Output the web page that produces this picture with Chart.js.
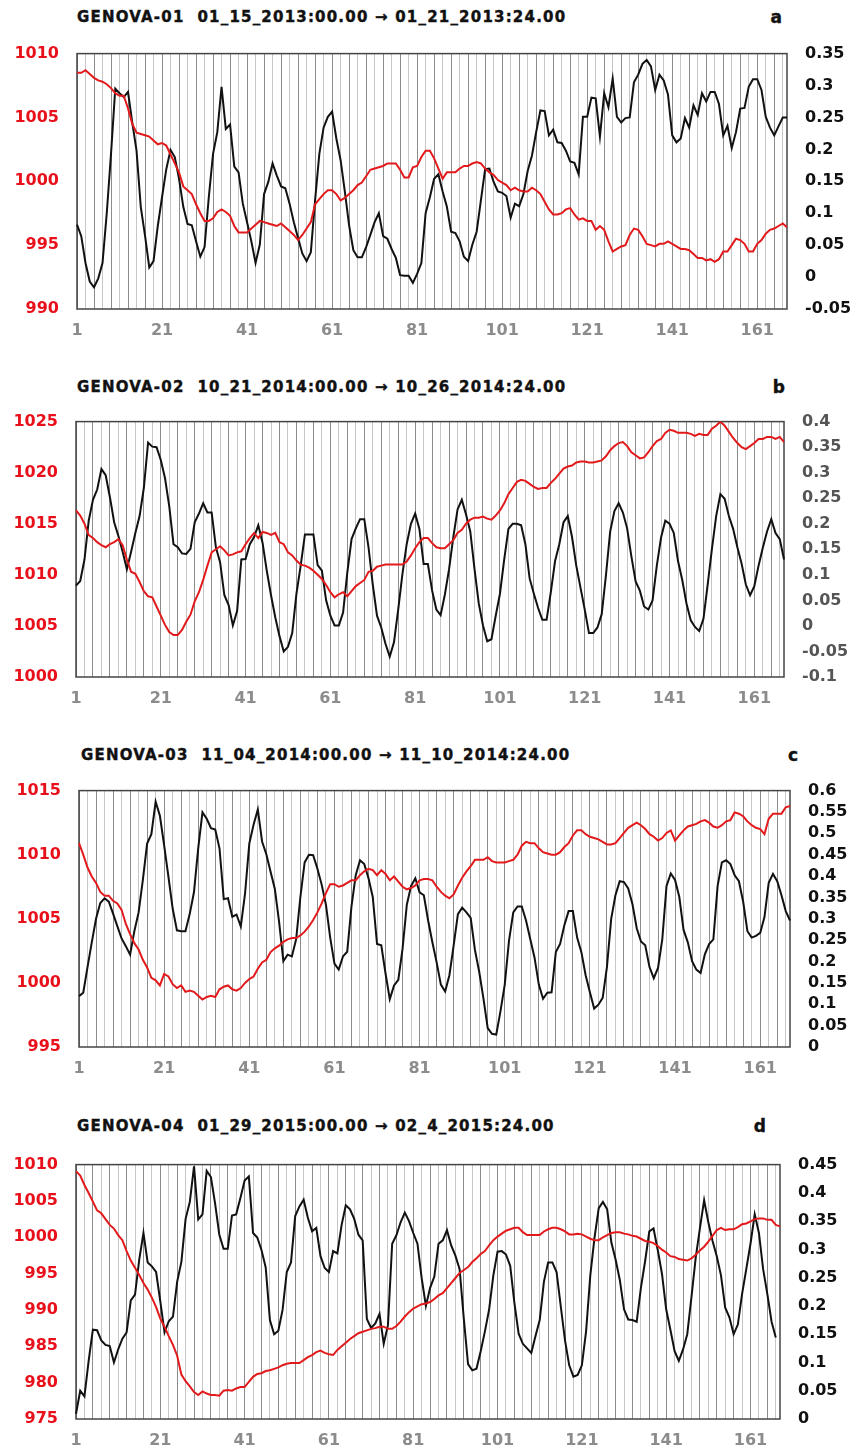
<!DOCTYPE html>
<html>
<head>
<meta charset="utf-8">
<script src="https://cdn.jsdelivr.net/npm/chart.js@4.4.1/dist/chart.umd.min.js"></script>
<style>
  body { margin: 0; background: #fff; width: 860px; height: 1450px; position: relative; font-family: 'DejaVu Sans', sans-serif; }
  canvas { position: absolute; left: 0; }
  .title { position: absolute; font-weight: bold; font-size: 15px; line-height: 20px; letter-spacing: 1.2px; white-space: pre; color: #111; -webkit-text-stroke: 0.4px #111; }
  .tag { position: absolute; font-weight: bold; font-size: 17px; line-height: 20px; color: #111; -webkit-text-stroke: 0.4px #111; }
</style>
</head>
<body>
<script>
// hourly steps shown on the x axis
const hours = Array.from({ length: 168 }, (_, i) => i + 1);

// GENOVA-01 : pressure (red, left axis) and black series (right axis)
const pressA = [1008.5, 1008.5, 1008.7, 1008.4, 1008.1, 1007.9, 1007.8, 1007.6, 1007.3, 1006.9, 1006.7, 1006.7, 1005.7, 1004.5, 1003.8, 1003.7, 1003.6, 1003.5, 1003.2, 1002.9,
  1003.0, 1002.8, 1002.1, 1001.4, 1000.7, 999.6, 999.3, 999.0, 998.2, 997.5, 996.9, 996.9, 997.1, 997.6, 997.8, 997.6, 997.3, 996.5, 996.0, 996.0,
  996.0, 996.3, 996.6, 996.9, 996.8, 996.7, 996.6, 996.5, 996.7, 996.4, 996.1, 995.8, 995.4, 995.8, 996.3, 996.8, 998.2, 998.6, 999.0, 999.3,
  999.3, 999.0, 998.5, 998.7, 999.0, 999.3, 999.7, 999.9, 1000.4, 1000.9, 1001.0, 1001.1, 1001.2, 1001.4, 1001.4, 1001.4, 1000.9, 1000.3, 1000.3, 1001.1,
  1001.2, 1001.9, 1002.4, 1002.4, 1001.8, 1001.0, 1000.2, 1000.7, 1000.7, 1000.7, 1001.0, 1001.2, 1001.2, 1001.4, 1001.5, 1001.4, 1001.0, 1000.7, 1000.5, 1000.1,
  999.9, 999.7, 999.3, 999.5, 999.3, 999.2, 999.2, 999.5, 999.3, 999.0, 998.4, 997.8, 997.4, 997.4, 997.5, 997.8, 997.9, 997.4, 997.0, 997.1,
  996.9, 996.9, 996.2, 996.5, 996.2, 995.3, 994.5, 994.7, 994.9, 995.0, 995.8, 996.3, 996.2, 995.7, 995.1, 995.0, 994.9, 995.1, 995.1, 995.3,
  995.1, 994.9, 994.7, 994.7, 994.6, 994.3, 994.0, 994.0, 993.8, 993.9, 993.7, 993.9, 994.5, 994.5, 995.0, 995.5, 995.4, 995.1, 994.5, 994.5,
  995.1, 995.4, 995.9, 996.2, 996.3, 996.5, 996.7, 996.4];
const valueA = [0.082, 0.064, 0.022, -0.007, -0.016, -0.002, 0.022, 0.100, 0.193, 0.295, 0.288, 0.282, 0.290, 0.242, 0.198, 0.110, 0.065, 0.015, 0.025, 0.080,
  0.125, 0.169, 0.199, 0.188, 0.154, 0.110, 0.083, 0.081, 0.056, 0.032, 0.047, 0.125, 0.193, 0.227, 0.298, 0.232, 0.239, 0.173, 0.164, 0.115,
  0.086, 0.056, 0.022, 0.051, 0.130, 0.149, 0.178, 0.159, 0.142, 0.139, 0.115, 0.086, 0.061, 0.037, 0.025, 0.039, 0.120, 0.193, 0.234, 0.251,
  0.259, 0.217, 0.183, 0.134, 0.081, 0.042, 0.031, 0.031, 0.047, 0.066, 0.086, 0.100, 0.064, 0.060, 0.044, 0.030, 0.003, 0.002, 0.002, -0.009,
  0.005, 0.022, 0.100, 0.125, 0.154, 0.161, 0.134, 0.110, 0.071, 0.069, 0.056, 0.032, 0.025, 0.051, 0.071, 0.120, 0.169, 0.170, 0.149, 0.134,
  0.132, 0.127, 0.093, 0.115, 0.111, 0.130, 0.166, 0.190, 0.227, 0.261, 0.260, 0.222, 0.231, 0.211, 0.210, 0.198, 0.181, 0.179, 0.161, 0.251,
  0.251, 0.281, 0.280, 0.220, 0.288, 0.266, 0.311, 0.251, 0.242, 0.249, 0.250, 0.305, 0.317, 0.334, 0.340, 0.330, 0.293, 0.317, 0.308, 0.286,
  0.222, 0.211, 0.217, 0.249, 0.234, 0.269, 0.254, 0.288, 0.275, 0.290, 0.290, 0.271, 0.222, 0.237, 0.202, 0.227, 0.264, 0.265, 0.298, 0.310,
  0.310, 0.293, 0.251, 0.234, 0.222, 0.236, 0.250, 0.250];

// GENOVA-02
const pressB = [1016.3, 1015.8, 1015.0, 1013.9, 1013.6, 1013.2, 1012.9, 1012.7, 1013.0, 1013.2, 1013.5, 1012.9, 1011.5, 1010.3, 1010.1, 1009.3, 1008.4, 1007.9, 1007.8, 1006.9,
  1006.0, 1005.1, 1004.4, 1004.1, 1004.1, 1004.6, 1005.4, 1006.1, 1007.4, 1008.3, 1009.5, 1010.9, 1012.2, 1012.5, 1012.8, 1012.4, 1011.9, 1012.0, 1012.2, 1012.3,
  1013.0, 1013.6, 1014.1, 1013.6, 1014.2, 1014.1, 1013.9, 1014.1, 1013.2, 1013.0, 1012.2, 1011.9, 1011.4, 1011.0, 1010.9, 1010.7, 1010.4, 1010.0, 1009.6, 1009.0,
  1008.3, 1007.8, 1008.1, 1008.3, 1007.9, 1008.4, 1008.9, 1009.2, 1009.5, 1010.3, 1010.4, 1010.8, 1010.9, 1011.0, 1011.0, 1011.0, 1011.0, 1011.0, 1011.3, 1011.9,
  1012.6, 1013.2, 1013.6, 1013.6, 1013.1, 1012.7, 1012.6, 1012.6, 1013.0, 1013.4, 1014.1, 1014.4, 1015.0, 1015.4, 1015.6, 1015.6, 1015.7, 1015.5, 1015.4, 1015.8,
  1016.3, 1017.0, 1017.9, 1018.5, 1019.1, 1019.3, 1019.2, 1018.9, 1018.6, 1018.4, 1018.5, 1018.5, 1019.0, 1019.4, 1019.9, 1020.4, 1020.6, 1020.7, 1021.0, 1021.1,
  1021.1, 1021.0, 1021.0, 1021.1, 1021.2, 1021.6, 1022.2, 1022.6, 1022.9, 1023.0, 1022.6, 1022.0, 1021.7, 1021.4, 1021.5, 1022.0, 1022.6, 1023.1, 1023.3, 1023.9,
  1024.2, 1024.1, 1023.9, 1023.9, 1023.9, 1023.8, 1023.6, 1023.8, 1023.7, 1023.7, 1024.3, 1024.6, 1025.0, 1024.6, 1024.0, 1023.4, 1022.9, 1022.5, 1022.3, 1022.6,
  1022.9, 1023.3, 1023.3, 1023.5, 1023.5, 1023.3, 1023.5, 1023.0];
const valueB = [0.079, 0.088, 0.130, 0.206, 0.247, 0.267, 0.307, 0.295, 0.252, 0.203, 0.176, 0.145, 0.111, 0.145, 0.182, 0.215, 0.270, 0.359, 0.351, 0.350,
  0.325, 0.289, 0.234, 0.160, 0.154, 0.142, 0.141, 0.151, 0.203, 0.220, 0.240, 0.222, 0.222, 0.154, 0.124, 0.060, 0.041, 0.001, 0.029, 0.130,
  0.131, 0.160, 0.174, 0.197, 0.163, 0.108, 0.060, 0.017, -0.020, -0.050, -0.041, -0.014, 0.063, 0.118, 0.179, 0.179, 0.179, 0.119, 0.108, 0.050,
  0.020, 0.001, 0.001, 0.026, 0.105, 0.170, 0.191, 0.209, 0.209, 0.154, 0.081, 0.020, -0.003, -0.035, -0.060, -0.032, 0.032, 0.102, 0.160, 0.200,
  0.220, 0.190, 0.121, 0.121, 0.069, 0.032, 0.021, 0.061, 0.111, 0.174, 0.228, 0.247, 0.218, 0.185, 0.111, 0.044, 0.001, -0.030, -0.026, 0.020,
  0.063, 0.130, 0.190, 0.200, 0.200, 0.197, 0.160, 0.093, 0.063, 0.035, 0.012, 0.012, 0.066, 0.127, 0.160, 0.203, 0.215, 0.174, 0.118, 0.075,
  0.032, -0.014, -0.014, -0.003, 0.023, 0.099, 0.185, 0.225, 0.240, 0.222, 0.191, 0.136, 0.087, 0.069, 0.038, 0.032, 0.050, 0.118, 0.173, 0.206,
  0.200, 0.182, 0.127, 0.090, 0.044, 0.011, -0.002, -0.010, 0.014, 0.081, 0.151, 0.215, 0.258, 0.249, 0.215, 0.190, 0.154, 0.122, 0.081, 0.060,
  0.078, 0.118, 0.153, 0.185, 0.209, 0.182, 0.170, 0.130];

// GENOVA-03
const pressC = [1010.9, 1010.0, 1009.0, 1008.3, 1007.8, 1007.1, 1006.8, 1006.8, 1006.4, 1006.2, 1005.7, 1004.6, 1003.8, 1003.1, 1002.6, 1001.8, 1001.2, 1000.4, 1000.2, 999.8,
  1000.7, 1000.5, 999.9, 999.6, 999.8, 999.3, 999.4, 999.3, 999.0, 998.7, 998.9, 999.0, 998.9, 999.5, 999.7, 999.8, 999.5, 999.4, 999.6, 1000.0,
  1000.3, 1000.5, 1001.1, 1001.6, 1001.8, 1002.4, 1002.7, 1002.9, 1003.2, 1003.4, 1003.5, 1003.5, 1003.7, 1004.0, 1004.4, 1004.9, 1005.5, 1006.2, 1007.0, 1007.7,
  1007.7, 1007.5, 1007.6, 1007.8, 1008.0, 1008.0, 1008.4, 1008.7, 1008.9, 1008.8, 1008.4, 1008.8, 1008.5, 1008.0, 1008.3, 1007.9, 1007.5, 1007.3, 1007.4, 1007.6,
  1008.0, 1008.1, 1008.1, 1008.0, 1007.5, 1007.1, 1006.8, 1006.6, 1006.9, 1007.6, 1008.2, 1008.7, 1009.1, 1009.6, 1009.6, 1009.6, 1009.8, 1009.5, 1009.4, 1009.4,
  1009.4, 1009.5, 1009.6, 1010.0, 1010.7, 1011.0, 1010.9, 1010.9, 1010.5, 1010.2, 1010.1, 1010.0, 1010.0, 1010.2, 1010.6, 1010.9, 1011.5, 1011.9, 1011.9, 1011.6,
  1011.4, 1011.3, 1011.2, 1011.0, 1010.8, 1010.8, 1010.9, 1011.3, 1011.7, 1012.1, 1012.3, 1012.5, 1012.3, 1012.0, 1011.6, 1011.4, 1011.1, 1011.3, 1011.7, 1011.9,
  1011.1, 1011.5, 1011.9, 1012.2, 1012.3, 1012.4, 1012.6, 1012.7, 1012.5, 1012.2, 1012.1, 1012.3, 1012.6, 1012.7, 1013.3, 1013.2, 1013.0, 1012.6, 1012.3, 1012.1,
  1012.0, 1011.6, 1012.8, 1013.2, 1013.2, 1013.2, 1013.7, 1013.8];
const valueC = [0.119, 0.127, 0.187, 0.245, 0.300, 0.337, 0.348, 0.340, 0.312, 0.283, 0.254, 0.236, 0.216, 0.271, 0.315, 0.391, 0.476, 0.498, 0.574, 0.541,
  0.472, 0.399, 0.324, 0.273, 0.271, 0.271, 0.311, 0.362, 0.465, 0.549, 0.534, 0.512, 0.509, 0.465, 0.346, 0.348, 0.305, 0.310, 0.282, 0.359,
  0.476, 0.520, 0.556, 0.481, 0.451, 0.410, 0.370, 0.293, 0.201, 0.216, 0.212, 0.252, 0.351, 0.432, 0.450, 0.449, 0.417, 0.380, 0.333, 0.256,
  0.195, 0.181, 0.212, 0.223, 0.329, 0.402, 0.437, 0.428, 0.395, 0.351, 0.241, 0.238, 0.172, 0.112, 0.144, 0.157, 0.230, 0.333, 0.377, 0.395,
  0.362, 0.355, 0.296, 0.245, 0.198, 0.146, 0.130, 0.168, 0.238, 0.311, 0.326, 0.315, 0.302, 0.227, 0.176, 0.113, 0.044, 0.031, 0.029, 0.084,
  0.146, 0.249, 0.315, 0.329, 0.329, 0.296, 0.252, 0.209, 0.146, 0.113, 0.127, 0.128, 0.222, 0.241, 0.285, 0.318, 0.318, 0.256, 0.222, 0.168,
  0.128, 0.090, 0.099, 0.115, 0.187, 0.300, 0.355, 0.388, 0.386, 0.371, 0.334, 0.278, 0.247, 0.238, 0.187, 0.161, 0.185, 0.252, 0.377, 0.406,
  0.391, 0.351, 0.274, 0.245, 0.201, 0.181, 0.173, 0.217, 0.241, 0.252, 0.377, 0.432, 0.437, 0.428, 0.402, 0.388, 0.340, 0.271, 0.256, 0.260,
  0.267, 0.304, 0.384, 0.405, 0.388, 0.355, 0.318, 0.296];

// GENOVA-04
const pressD = [1009.1, 1008.5, 1007.2, 1006.1, 1004.9, 1003.7, 1003.3, 1002.5, 1001.7, 1001.2, 1000.3, 999.6, 998.1, 996.8, 995.8, 994.8, 993.7, 992.8, 991.7, 990.4,
  988.8, 987.7, 986.4, 985.2, 983.7, 981.1, 980.2, 979.5, 978.7, 978.3, 978.8, 978.5, 978.3, 978.3, 978.2, 978.9, 979.0, 978.9, 979.2, 979.4,
  979.4, 980.1, 980.8, 981.2, 981.3, 981.6, 981.7, 981.9, 982.1, 982.4, 982.6, 982.7, 982.7, 982.7, 983.1, 983.5, 983.8, 984.2, 984.4, 984.1,
  983.9, 983.8, 984.5, 985.0, 985.5, 986.0, 986.4, 986.8, 987.0, 987.2, 987.4, 987.5, 987.7, 987.7, 987.4, 987.4, 987.8, 988.4, 989.1, 989.7,
  990.2, 990.5, 990.8, 990.9, 991.1, 991.5, 992.0, 992.3, 993.0, 993.7, 994.4, 995.1, 995.5, 995.9, 996.6, 997.1, 997.7, 998.1, 998.9, 999.6,
  1000.1, 1000.5, 1000.9, 1001.1, 1001.3, 1001.3, 1000.7, 1000.3, 1000.3, 1000.3, 1000.3, 1000.8, 1001.1, 1001.3, 1001.3, 1001.1, 1000.8, 1000.4, 1000.4, 1000.5,
  1000.4, 1000.1, 999.8, 999.6, 999.6, 1000.0, 1000.3, 1000.6, 1000.7, 1000.7, 1000.5, 1000.4, 1000.2, 1000.1, 999.8, 999.5, 999.4, 999.2, 998.8, 998.3,
  997.9, 997.4, 997.3, 997.0, 996.9, 996.8, 997.1, 997.6, 998.2, 998.7, 999.4, 1000.2, 1001.0, 1001.3, 1001.0, 1001.1, 1001.1, 1001.4, 1001.8, 1001.9,
  1002.2, 1002.5, 1002.6, 1002.6, 1002.4, 1002.4, 1001.7, 1001.5];
const valueD = [0.009, 0.050, 0.040, 0.103, 0.158, 0.157, 0.139, 0.131, 0.129, 0.100, 0.123, 0.142, 0.153, 0.210, 0.220, 0.282, 0.329, 0.277, 0.270, 0.260,
  0.208, 0.153, 0.173, 0.181, 0.243, 0.278, 0.354, 0.384, 0.447, 0.353, 0.362, 0.439, 0.428, 0.381, 0.326, 0.301, 0.301, 0.360, 0.362, 0.391,
  0.422, 0.429, 0.329, 0.321, 0.299, 0.268, 0.175, 0.150, 0.156, 0.193, 0.260, 0.277, 0.359, 0.376, 0.388, 0.356, 0.332, 0.338, 0.288, 0.267,
  0.260, 0.297, 0.293, 0.343, 0.378, 0.371, 0.354, 0.326, 0.316, 0.177, 0.161, 0.169, 0.186, 0.133, 0.166, 0.310, 0.325, 0.348, 0.365, 0.350,
  0.329, 0.310, 0.249, 0.200, 0.232, 0.252, 0.310, 0.316, 0.334, 0.307, 0.289, 0.265, 0.177, 0.097, 0.086, 0.089, 0.120, 0.155, 0.194, 0.254,
  0.296, 0.297, 0.291, 0.271, 0.205, 0.151, 0.133, 0.125, 0.117, 0.147, 0.175, 0.243, 0.277, 0.277, 0.260, 0.199, 0.139, 0.095, 0.075, 0.078,
  0.095, 0.155, 0.254, 0.321, 0.373, 0.384, 0.371, 0.312, 0.282, 0.246, 0.194, 0.176, 0.175, 0.172, 0.232, 0.279, 0.332, 0.337, 0.299, 0.257,
  0.194, 0.158, 0.120, 0.103, 0.123, 0.150, 0.216, 0.285, 0.337, 0.387, 0.348, 0.315, 0.288, 0.254, 0.197, 0.180, 0.150, 0.167, 0.221, 0.265,
  0.310, 0.362, 0.329, 0.265, 0.221, 0.172, 0.144, null];

// axis tick values
const pressTicksA = [990, 995, 1000, 1005, 1010];
const valueTicksA = [-0.05, 0, 0.05, 0.1, 0.15, 0.2, 0.25, 0.3, 0.35];
const pressTicksB = [1000, 1005, 1010, 1015, 1020, 1025];
const valueTicksB = [-0.1, -0.05, 0, 0.05, 0.1, 0.15, 0.2, 0.25, 0.3, 0.35, 0.4];
const pressTicksC = [995, 1000, 1005, 1010, 1015];
const valueTicksC = [0, 0.05, 0.1, 0.15, 0.2, 0.25, 0.3, 0.35, 0.4, 0.45, 0.5, 0.55, 0.6];
const pressTicksD = [975, 980, 985, 990, 995, 1000, 1005, 1010];
const valueTicksD = [0, 0.05, 0.1, 0.15, 0.2, 0.25, 0.3, 0.35, 0.4, 0.45];

const titles = [
  'GENOVA-01  01_15_2013:00.00 \u2192 01_21_2013:24.00',
  'GENOVA-02  10_21_2014:00.00 \u2192 10_26_2014:24.00',
  'GENOVA-03  11_04_2014:00.00 \u2192 11_10_2014:24.00',
  'GENOVA-04  01_29_2015:00.00 \u2192 02_4_2015:24.00',
];
const tags = ['a', 'b', 'c', 'd'];

// where each panel sits on the page (plot box left, top, right, bottom)
const panels = [
  { box: [77, 36, 787, 309], titleX: 77, titleY: 17, tagX: 782, tagY: 17, press: pressA, value: valueA, pTicks: pressTicksA, vTicks: valueTicksA, rightColor: '#111' },
  { box: [76, 404, 784, 677], titleX: 77, titleY: 387, tagX: 785, tagY: 387, press: pressB, value: valueB, pTicks: pressTicksB, vTicks: valueTicksB, rightColor: '#555' },
  { box: [79, 773, 790, 1047], titleX: 81, titleY: 755, tagX: 798, tagY: 755, press: pressC, value: valueC, pTicks: pressTicksC, vTicks: valueTicksC, rightColor: '#111' },
  { box: [76, 1147, 780, 1419], titleX: 77, titleY: 1126, tagX: 766, tagY: 1126, press: pressD, value: valueD, pTicks: pressTicksD, vTicks: valueTicksD, rightColor: '#111' },
];

// plot frame drawn under the lines
const frame = {
  id: 'frame',
  beforeDatasetsDraw(chart) {
    const { ctx, chartArea: a } = chart;
    ctx.save();
    ctx.strokeStyle = '#444';
    ctx.lineWidth = 1.5;
    ctx.strokeRect(a.left, a.top, a.right - a.left, a.bottom - a.top);
    ctx.restore();
  }
};

const tickFont = { family: 'DejaVu Sans', size: 16, weight: 'bold' };

// every second hour gets a grid line, alternating darker / lighter like the original
const gridColor = (c) => {
  if (c.index % 2 !== 0) return 'rgba(0,0,0,0)';
  return c.index % 4 === 0 ? '#8c8c8c' : '#c6c6c6';
};

const makePanel = (p, i) => {
  const [left, top, right, bottom] = p.box;

  const t = document.createElement('div');
  t.className = 'title';
  t.textContent = titles[i];
  t.style.left = p.titleX + 'px';
  t.style.top = (p.titleY - 10) + 'px';
  document.body.appendChild(t);

  const g = document.createElement('div');
  g.className = 'tag';
  g.textContent = tags[i];
  g.style.right = (860 - p.tagX) + 'px';
  g.style.top = (p.tagY - 10) + 'px';
  document.body.appendChild(g);

  const canvas = document.createElement('canvas');
  canvas.width = 860;
  canvas.height = bottom - top + 50;
  canvas.style.top = (top - 10) + 'px';
  document.body.appendChild(canvas);

  new Chart(canvas, {
    type: 'line',
    data: {
      labels: hours,
      datasets: [
        { data: p.press, yAxisID: 'y', borderColor: '#e31a1c', borderWidth: 2, pointRadius: 0, tension: 0, order: 0 },
        { data: p.value, yAxisID: 'y1', borderColor: '#111', borderWidth: 2, pointRadius: 0, tension: 0, order: 1 },
      ],
    },
    options: {
      responsive: false,
      animation: false,
      events: [],
      layout: { padding: { top: 10, left: 0, right: 0, bottom: 0 } },
      plugins: { legend: { display: false }, tooltip: { enabled: false } },
      scales: {
        x: {
          afterFit: (s) => { s.height = 40; },
          grid: { drawTicks: false, lineWidth: 1, color: gridColor },
          border: { display: false },
          ticks: {
            autoSkip: false, maxRotation: 0, minRotation: 0, padding: 12,
            color: '#8c8c8c', font: tickFont,
            callback: (v, idx) => (idx % 20 === 0 ? String(idx + 1) : ''),
          },
        },
        y: {
          position: 'left',
          min: p.pTicks[0], max: p.pTicks[p.pTicks.length - 1],
          afterBuildTicks: (s) => { s.ticks = p.pTicks.map((v) => ({ value: v })); },
          afterFit: (s) => { s.width = left; },
          grid: { display: false, drawTicks: false },
          border: { display: false },
          ticks: { autoSkip: false, padding: 18, color: '#e8101a', font: tickFont, callback: (v) => String(v) },
        },
        y1: {
          position: 'right',
          min: p.vTicks[0], max: p.vTicks[p.vTicks.length - 1],
          afterBuildTicks: (s) => { s.ticks = p.vTicks.map((v) => ({ value: v })); },
          afterFit: (s) => { s.width = 860 - right; },
          grid: { display: false, drawTicks: false },
          border: { display: false },
          ticks: { autoSkip: false, padding: 18, color: p.rightColor, font: tickFont, callback: (v) => String(+v.toFixed(2)) },
        },
      },
    },
    plugins: [frame],
  });
};

panels.forEach(makePanel);
</script>
</body>
</html>
